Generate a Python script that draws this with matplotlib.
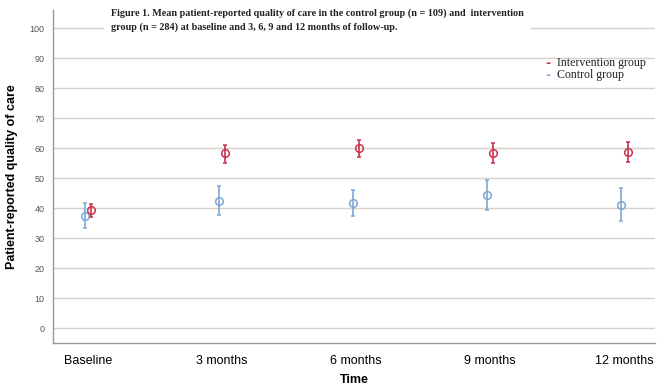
import numpy as np
import matplotlib.pyplot as plt

# 時間點
times = ["Baseline", "3 months", "6 months", "9 months", "12 months"]

# 介入組 (n = 284)
interv_mean = [39.2, 58.3, 60.0, 58.4, 58.8]
interv_low = [37.0, 55.0, 57.1, 55.0, 55.3]
interv_high = [41.4, 61.0, 62.8, 61.6, 61.9]

# 對照組 (n = 109)
ctrl_mean = [37.5, 42.5, 41.6, 44.2, 41.1]
ctrl_low = [33.4, 37.8, 37.2, 39.2, 35.6]
ctrl_high = [41.6, 47.2, 46.1, 49.2, 46.7]

red = "#c8334d"
blue = "#7ea7d4"
grid_c = "#d9d0ca"

fig = plt.figure(figsize=(6.6, 3.89), dpi=100)
ax = fig.add_axes([53 / 660, 46 / 389, 602 / 660, 333 / 389])

x = np.arange(len(times))
off = 0.025

ie = [np.array(interv_mean) - np.array(interv_low), np.array(interv_high) - np.array(interv_mean)]
ce = [np.array(ctrl_mean) - np.array(ctrl_low), np.array(ctrl_high) - np.array(ctrl_mean)]

ax.errorbar(x - off, ctrl_mean, yerr=ce, fmt="o", mfc="none", mec=blue, ecolor=blue,
            color=blue, ms=5.5, mew=1.1, elinewidth=1.2, capsize=1.5, zorder=3)
ax.errorbar(x + off, interv_mean, yerr=ie, fmt="o", mfc="none", mec=red, ecolor=red,
            color=red, ms=5.5, mew=1.1, elinewidth=1.2, capsize=1.5, zorder=4)

ax.set_xlim(-0.26, 4.23)
ax.set_ylim(-5, 106)
ax.set_yticks(range(0, 101, 10))
ax.set_xticks(x)
ax.set_xticklabels(times, fontsize=9, family="Liberation Sans")
for lab in ax.get_yticklabels():
    lab.set_fontsize(6.5)
    lab.set_color("#555555")
    lab.set_family("Liberation Sans")
ax.tick_params(length=0, pad=6)
ax.tick_params(axis="x", pad=9)

ax.grid(axis="y", color=grid_c, lw=1.0)
ax.set_axisbelow(True)
for s in ["top", "right"]:
    ax.spines[s].set_visible(False)
for s in ["left", "bottom"]:
    ax.spines[s].set_color("#999999")
    ax.spines[s].set_linewidth(1.0)

ax.set_xlabel("Time", fontsize=9, fontweight="bold", family="Liberation Sans")
ax.xaxis.set_label_coords((354 - 53) / 602, -(374 - 343) / 333)
ax.set_ylabel("Patient-reported quality of care", fontsize=9, fontweight="bold",
              family="Liberation Sans")
ax.yaxis.set_label_coords(-(53 - 18) / 602, 0.5)

# 圖標題 (白底方框)
fig.text(111 / 660, 1 - 8 / 389,
         "Figure 1. Mean patient-reported quality of care in the control group (n = 109) and  intervention\n"
         "group (n = 284) at baseline and 3, 6, 9 and 12 months of follow-up.",
         fontsize=7.3, fontweight="bold", family="Liberation Serif", color="#222222",
         va="top", ha="left", linespacing=1.65,
         bbox=dict(facecolor="white", edgecolor="none", pad=5))

# 圖例
fig.text(545 / 660, 1 - 63 / 389, "-", color=red, fontsize=9, fontweight="bold", va="center")
fig.text(557 / 660, 1 - 63 / 389, "Intervention group", fontsize=8.6, family="Liberation Serif",
         color="#222222", va="center")
fig.text(545 / 660, 1 - 75 / 389, "-", color=blue, fontsize=9, fontweight="bold", va="center")
fig.text(557 / 660, 1 - 75 / 389, "Control group", fontsize=8.6, family="Liberation Serif",
         color="#222222", va="center")

fig.savefig("out.png", dpi=100)
